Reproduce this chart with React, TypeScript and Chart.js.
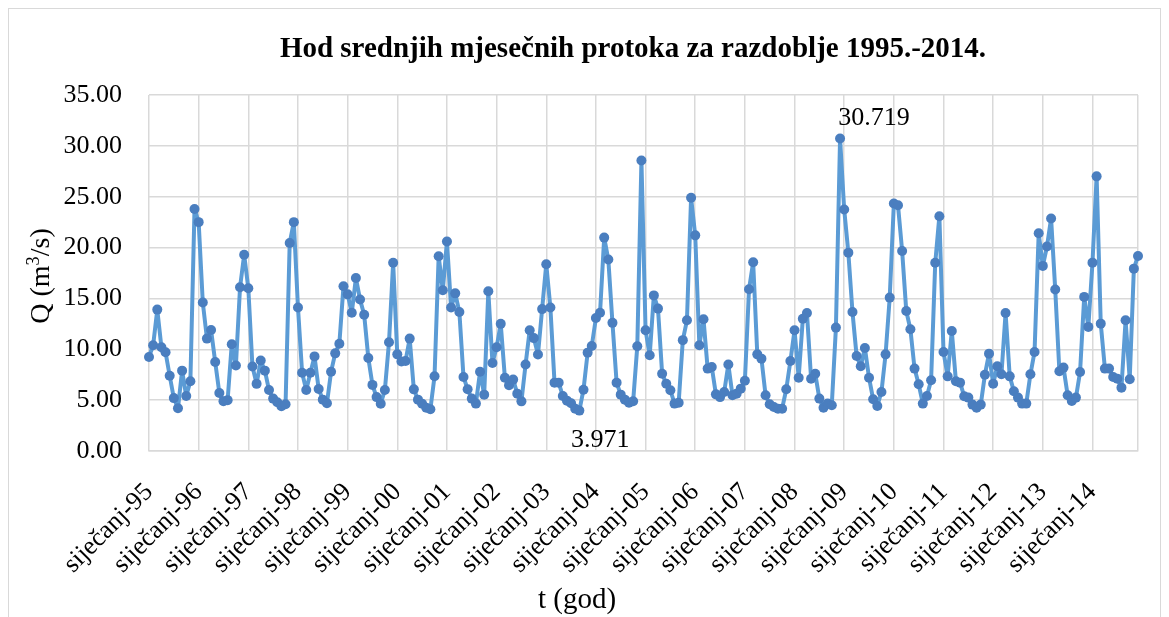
import React, { useEffect, useRef } from 'react';
import { Chart, registerables } from 'chart.js';
Chart.register(...registerables);

const MONTHS = ['siječanj', 'veljača', 'ožujak', 'travanj', 'svibanj', 'lipanj', 'srpanj', 'kolovoz', 'rujan', 'listopad', 'studeni', 'prosinac'];
const YEARS = ['95', '96', '97', '98', '99', '00', '01', '02', '03', '04', '05', '06', '07', '08', '09', '10', '11', '12', '13', '14'];

const q1995 = [9.25, 10.4, 13.9, 10.2, 9.7, 7.4, 5.2, 4.2, 7.9, 5.4, 6.85, 23.8];
const q1996 = [22.5, 14.6, 11.05, 11.9, 8.75, 5.7, 4.9, 5.0, 10.5, 8.4, 16.1, 19.3];
const q1997 = [16.0, 8.3, 6.6, 8.9, 7.9, 6.0, 5.15, 4.8, 4.4, 4.6, 20.45, 22.5];
const q1998 = [14.1, 7.7, 6.0, 7.7, 9.3, 6.1, 5.05, 4.7, 7.8, 9.6, 10.55, 16.2];
const q1999 = [15.4, 13.6, 17.0, 14.9, 13.4, 9.15, 6.5, 5.3, 4.65, 6.0, 10.7, 18.5];
const q2000 = [9.5, 8.8, 8.85, 11.05, 6.06, 5.05, 4.65, 4.26, 4.1, 7.35, 19.15, 15.8];
const q2001 = [20.6, 14.1, 15.5, 13.67, 7.28, 6.07, 5.15, 4.66, 7.8, 5.54, 15.7, 8.66];
const q2002 = [10.2, 12.5, 7.21, 6.46, 7.02, 5.64, 4.88, 8.5, 11.87, 11.1, 9.48, 13.95];
const q2003 = [18.36, 14.1, 6.72, 6.72, 5.41, 4.95, 4.69, 4.16, 3.971, 6.03, 9.67, 10.33];
const q2004 = [13.08, 13.6, 20.98, 18.82, 12.6, 6.72, 5.54, 5.05, 4.75, 4.89, 10.3, 28.56];
const q2005 = [11.87, 9.41, 15.3, 14.0, 7.6, 6.62, 5.97, 4.66, 4.75, 10.9, 12.85, 24.9];
const q2006 = [21.2, 10.4, 12.95, 8.1, 8.26, 5.57, 5.3, 5.8, 8.5, 5.48, 5.64, 6.13];
const q2007 = [6.9, 15.9, 18.55, 9.5, 9.08, 5.48, 4.59, 4.33, 4.16, 4.16, 6.07, 8.85];
const q2008 = [11.87, 7.21, 13.0, 13.57, 7.11, 7.6, 5.15, 4.26, 4.66, 4.5, 12.13, 30.719];
const q2009 = [23.74, 19.5, 13.67, 9.34, 8.33, 10.13, 7.21, 5.08, 4.43, 5.8, 9.5, 15.08];
const q2010 = [24.33, 24.16, 19.67, 13.77, 11.97, 8.1, 6.56, 4.66, 5.41, 6.95, 18.5, 23.08];
const q2011 = [9.74, 7.34, 11.8, 6.85, 6.72, 5.38, 5.25, 4.56, 4.26, 4.56, 7.5, 9.57];
const q2012 = [6.62, 8.33, 7.54, 13.57, 7.34, 5.87, 5.25, 4.66, 4.66, 7.54, 9.74, 21.4];
const q2013 = [18.2, 20.1, 22.85, 15.87, 7.84, 8.2, 5.48, 4.92, 5.25, 7.77, 15.15, 12.2];
const q2014 = [18.52, 27.0, 12.52, 8.1, 8.1, 7.28, 7.11, 6.23, 12.85, 7.05, 17.93, 19.18];

const SERIES = [q1995, q1996, q1997, q1998, q1999, q2000, q2001, q2002, q2003, q2004,
  q2005, q2006, q2007, q2008, q2009, q2010, q2011, q2012, q2013, q2014];

const FONT = "'Liberation Serif', 'Times New Roman', serif";
const GRID = '#d9d9d9';

const labelPlugin = {
  id: 'extremes',
  afterDatasetsDraw(chart: any) {
    const ds = chart.data.datasets[0].data as number[];
    const meta = chart.getDatasetMeta(0);
    let iMax = 0, iMin = 0;
    ds.forEach((v, i) => { if (v > ds[iMax]) iMax = i; if (v < ds[iMin]) iMin = i; });
    const ctx = chart.ctx;
    ctx.save();
    ctx.font = `26px ${FONT}`;
    ctx.fillStyle = '#000';
    ctx.textAlign = 'center';
    ctx.textBaseline = 'middle';
    const pMax = meta.data[iMax];
    const pMin = meta.data[iMin];
    ctx.fillText(ds[iMax].toFixed(3), pMax.x + 34, pMax.y - 20);
    ctx.fillText(ds[iMin].toFixed(3), pMin.x + 21, pMin.y + 30);
    ctx.restore();
  },
};

export default function App() {
  const ref = useRef<HTMLCanvasElement | null>(null);
  useEffect(() => {
    document.documentElement.style.overflow = 'hidden';
    document.body.style.overflow = 'hidden';
    const labels: string[] = [];
    YEARS.forEach((y) => MONTHS.forEach((m) => labels.push(`${m}-${y}`)));
    const data = SERIES.flat();
    const n = labels.length;
    const chart = new Chart(ref.current!, {
      type: 'line',
      data: {
        labels,
        datasets: [{
          data,
          borderColor: '#5b9bd5',
          borderWidth: 4,
          borderJoinStyle: 'round',
          borderCapStyle: 'round',
          pointRadius: 5,
          pointBackgroundColor: '#4a7ebf',
          pointBorderWidth: 0,
          pointHoverRadius: 5,
          tension: 0,
        }],
      },
      options: {
        responsive: false,
        animation: false,
        events: [],
        layout: { padding: { top: 86, right: 21, left: 0, bottom: 0 } },
        plugins: { legend: { display: false }, title: { display: false }, tooltip: { enabled: false } },
        scales: {
          x: {
            type: 'category',
            offset: false,
            afterFit: (s: any) => { s.height = 166; s.paddingLeft = 0; s.paddingRight = 0; },
            grid: {
              color: (c: any) => (c.index % 12 === 0 || c.index === n - 1 ? GRID : 'rgba(0,0,0,0)'),
              lineWidth: 1.5,
              drawTicks: false,
            },
            border: { display: true, color: GRID, width: 1.5 },
            ticks: {
              autoSkip: false,
              maxRotation: 45,
              minRotation: 45,
              padding: 26,
              color: '#000',
              font: { family: FONT, size: 26 },
              callback: (_v: any, i: number) => (i % 12 === 0 ? labels[i] : ''),
            },
          },
          y: {
            min: 0,
            max: 35,
            afterFit: (s: any) => { s.width = 140; },
            grid: { color: GRID, lineWidth: 1.5, drawTicks: false },
            border: { display: false },
            ticks: {
              stepSize: 5,
              padding: 27,
              color: '#000',
              font: { family: FONT, size: 26 },
              callback: (v: any) => Number(v).toFixed(2),
            },
          },
        },
      },
      plugins: [labelPlugin],
    });
    return () => chart.destroy();
  }, []);

  const text: React.CSSProperties = { position: 'absolute', fontFamily: FONT, color: '#000', whiteSpace: 'nowrap', textAlign: 'center' };
  return (
    <div style={{ position: 'fixed', left: 8, top: 8, width: 1153, height: 620, boxSizing: 'border-box', border: `1px solid ${GRID}`, background: '#fff' }}>
      <canvas ref={ref} width={1150} height={608} style={{ position: 'absolute', left: 0, top: 0, width: 1150, height: 608 }} />
      <div style={{ ...text, left: 124, width: 1000, top: 23, fontSize: 29, lineHeight: '30px', fontWeight: 'bold' }}>
        Hod srednjih mjesečnih protoka za razdoblje 1995.-2014.
      </div>
      <div style={{ ...text, left: -69, width: 200, top: 252, height: 30, fontSize: 28, lineHeight: '30px', transform: 'rotate(-90deg)' }}>
        Q (m<sup style={{ fontSize: '0.65em', verticalAlign: 'super', lineHeight: 0 }}>3</sup>/s)
      </div>
      <div style={{ ...text, left: 468, width: 200, top: 574, fontSize: 29, lineHeight: '30px' }}>
        t (god)
      </div>
    </div>
  );
}
